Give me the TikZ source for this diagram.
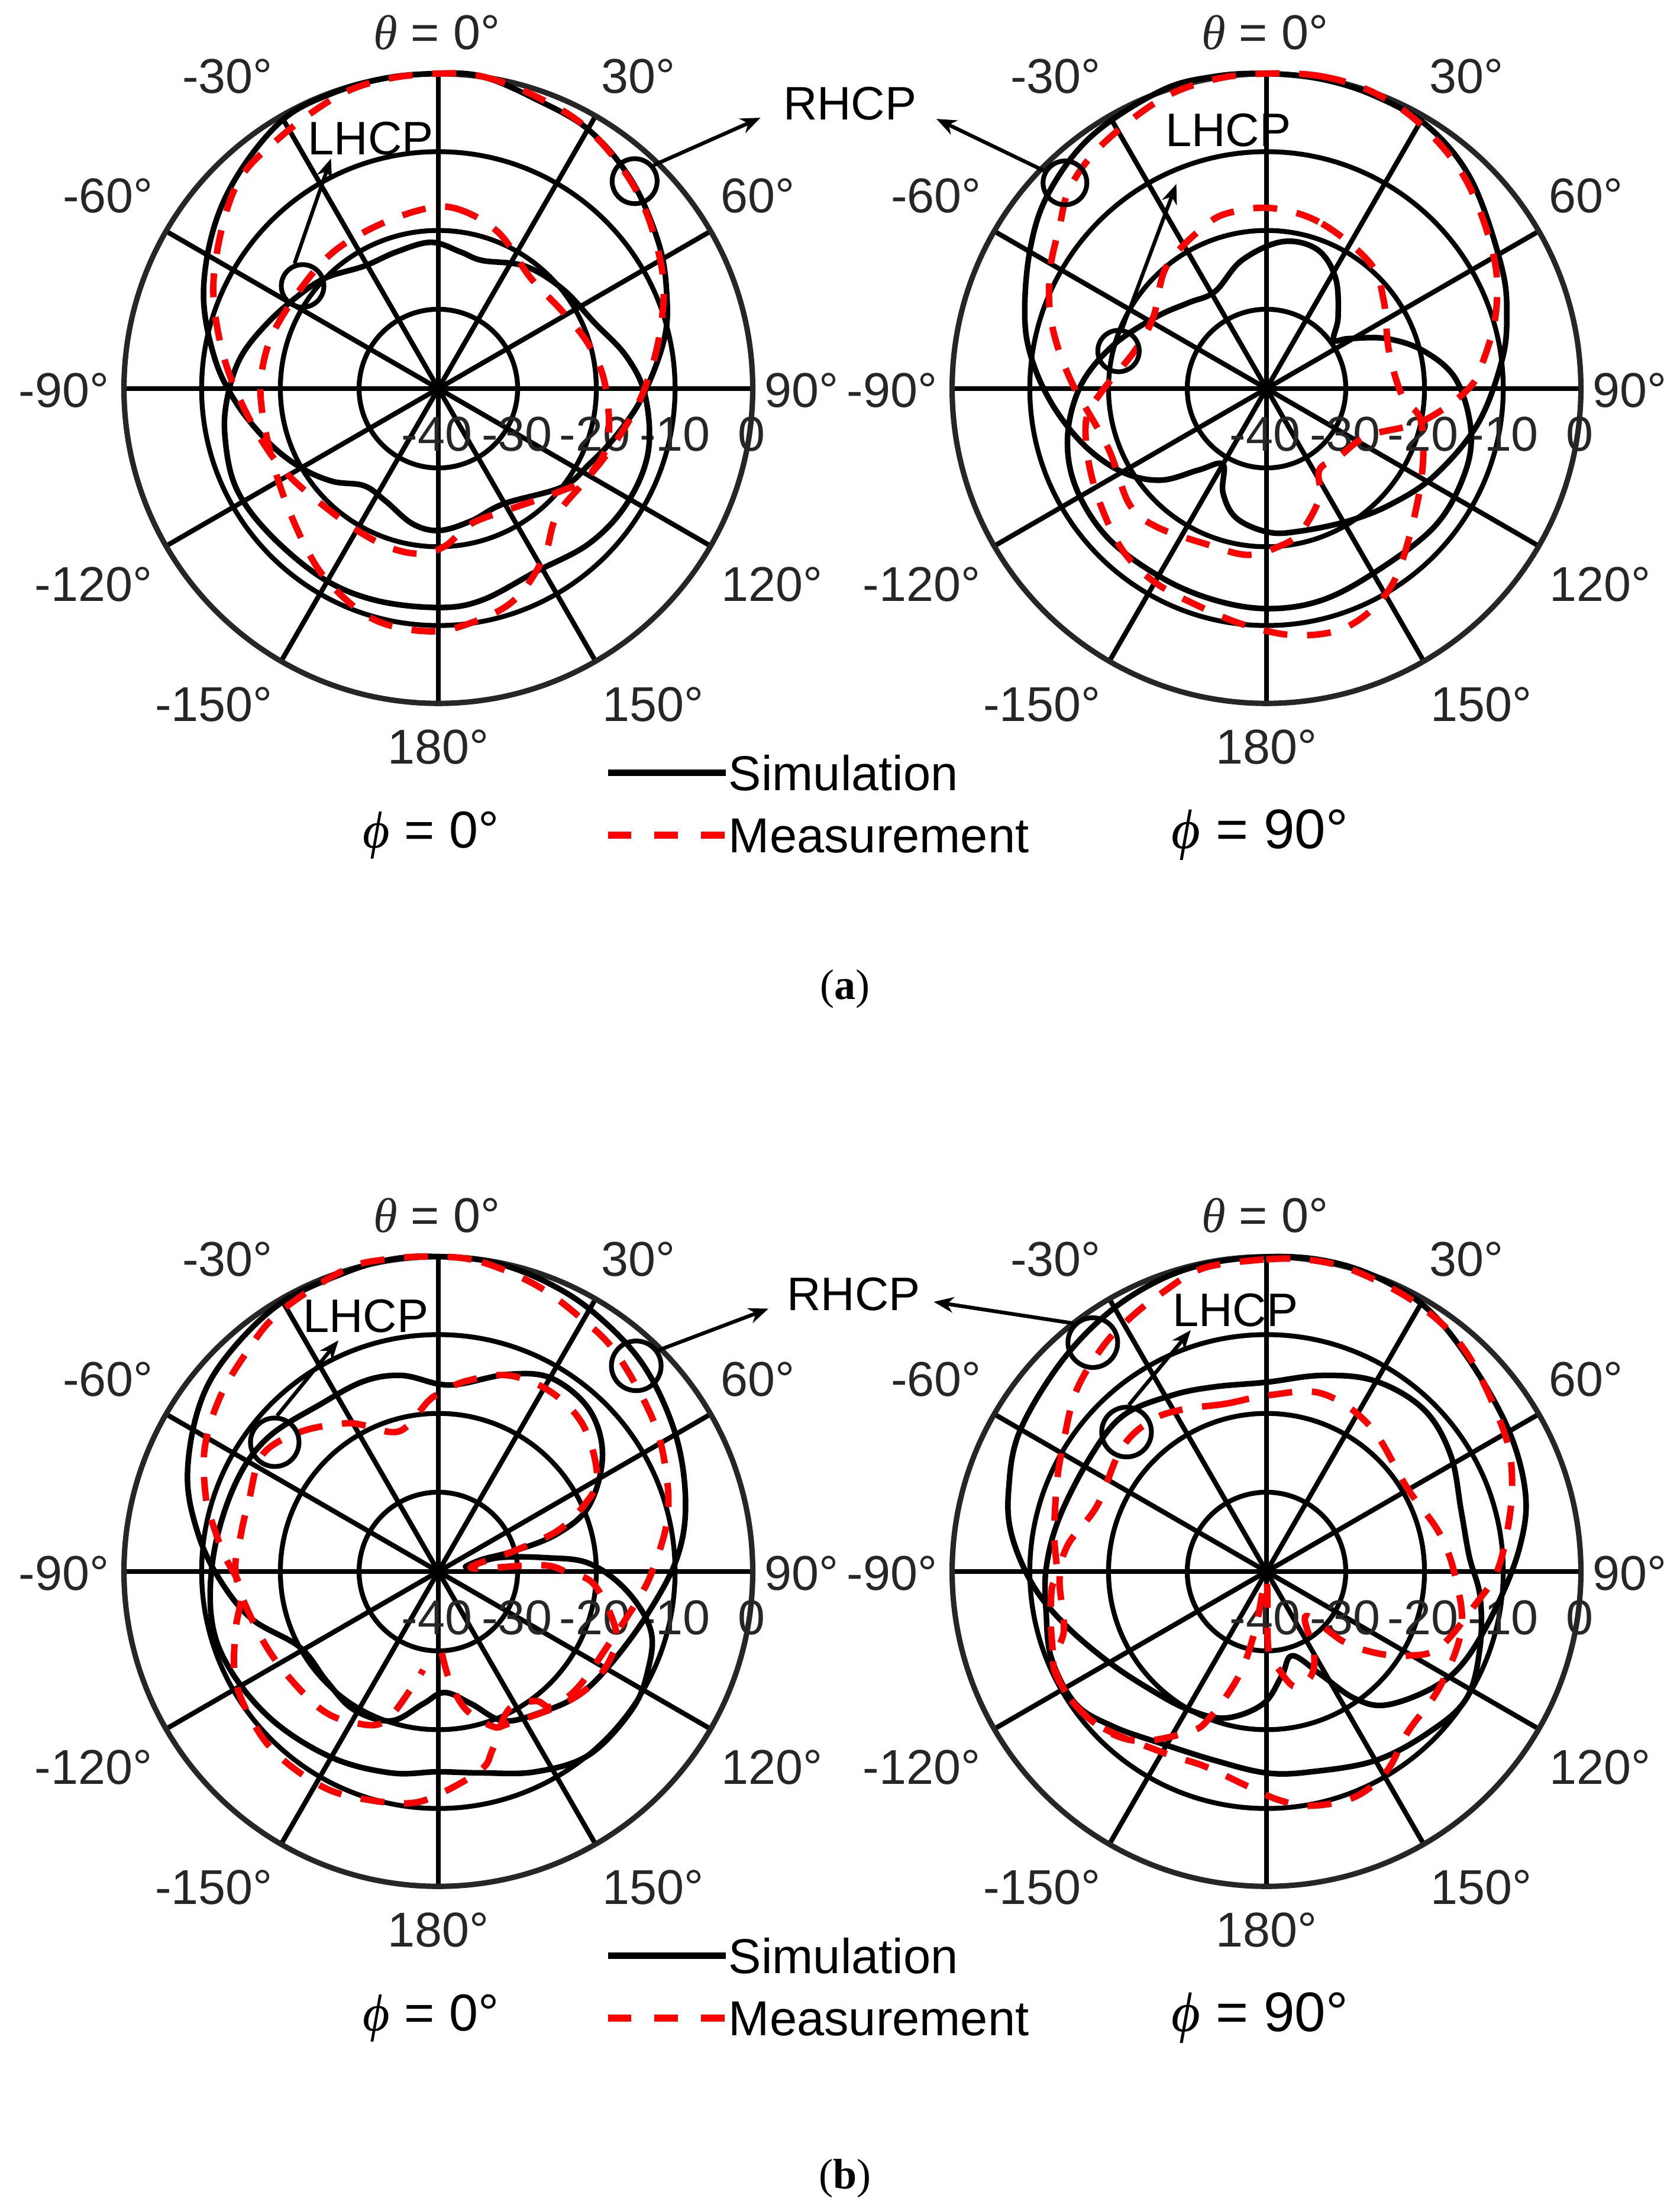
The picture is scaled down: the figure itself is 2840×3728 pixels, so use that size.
\documentclass[tikz,border=0pt]{standalone}
\usepackage{fontspec}
\setmainfont{Liberation Sans}
\newfontfamily\capserif{Liberation Serif}
\usetikzlibrary{arrows.meta}
\definecolor{axisgray}{HTML}{262626}
\tikzset{
  crop/.style={x=0.009056cm,y=-0.009567cm},
  ring/.style={draw=black,line width=2.35pt},
  spoke/.style={draw=black,line width=2.35pt},
  outer/.style={draw=axisgray,line width=2.6pt},
  simline/.style={draw=black,line width=2.7pt,line join=round},
  measline/.style={draw=red,line width=3.1pt,dash pattern=on 11.5pt off 9.5pt},
  tick/.style={font=\fontsize{23.5}{26}\selectfont,text=axisgray,inner sep=0pt,anchor=center},
  tag/.style={font=\fontsize{22.6}{25}\selectfont,text=black,inner sep=0pt,anchor=center},
  legtext/.style={font=\fontsize{23.6}{26}\selectfont,text=black,inner sep=0pt,anchor=base west},
  mark ring/.style={circle,draw=black,line width=2.3pt,minimum size=#1,inner sep=0pt},
  pointer/.style={draw=black,line width=1.8pt,-{Stealth[length=9.5pt,width=7.5pt,inset=3pt]}},
  caption/.style={font=\capserif\fontsize{20.5}{22}\selectfont,text=black,inner sep=0pt,anchor=center}
}
\newcommand{\PolarAxes}[3]{%
  \begin{scope}[shift={(#2,#3)},crop]
    \foreach \r in {148,295,442}{
      \draw[ring] (0,0) ellipse ({\r} and {\r*0.9468});
    }
    \foreach \a in {0,30,...,330}{
      \draw[spoke] (0,0) -- ({587*cos(\a)},{556*sin(\a)});
    }
    \draw[outer] (0,0) ellipse (587 and 556);
    \node[tick] (#1t0) at (-3,-629) {{\capserif\itshape θ} = 0°};
    \node[tick] (#1tm30) at (-394,-552) {-30°};
    \node[tick] (#1t30) at (373,-552) {30°};
    \node[tick] (#1tm60) at (-617,-340) {-60°};
    \node[tick] (#1t60) at (596,-340) {60°};
    \node[tick] (#1tm90) at (-699,3) {-90°};
    \node[tick] (#1t90) at (678,3) {90°};
    \node[tick] (#1tm120) at (-644,346) {-120°};
    \node[tick] (#1t120) at (623,346) {120°};
    \node[tick] (#1tm150) at (-419,558) {-150°};
    \node[tick] (#1t150) at (401,558) {150°};
    \node[tick] (#1t180) at (0,633) {180°};
    \node[tick] (#1r40) at (-3,81) {-40};
    \node[tick] (#1r30) at (147,81) {-30};
    \node[tick] (#1r20) at (292,81) {-20};
    \node[tick] (#1r10) at (442,81) {-10};
    \node[tick] (#1r0) at (585,81) {0};
  \end{scope}}
\newcommand{\Legend}[3]{%
  \coordinate (#1sa) at (1135,1365);
  \coordinate (#1sb) at (1355,1365);
  \coordinate (#1ma) at (1135,1475);
  \coordinate (#1mb) at (1355,1475);
  \draw[draw=black,line width=3pt] (#1sa) -- (#1sb);
  \draw[draw=red,line width=3.2pt,dash pattern=on 11.2pt off 11.2pt] (#1ma) -- (#1mb);
  \node[legtext] (#1sim) at (1360,1396) {Simulation};
  \node[legtext] (#1mea) at (1360,1506) {Measurement};
  \node[tag,font=\fontsize{25}{27}\selectfont] (#1phi0) at (805,1475) {{\capserif\itshape ϕ} = 0°};}
\begin{document}
\begin{tikzpicture}[x=0.01cm,y=-0.01cm]
\useasboundingbox (0,0) rectangle (2840,3728);
\fill[white] (0,0) rectangle (2840,3728);

% ---------- panel a, phi = 0
\PolarAxes{aa}{741}{657}
\begin{scope}[shift={(0,0)},crop]
\draw[simline] plot[smooth cycle,tension=0.6] coordinates {(818,130)(900,135)(1000,175)(1100,230)(1180,320)(1230,430)(1245,520)(1240,600)(1200,700)(1150,770)(1100,820)(1050,860)(940,890)(880,920)(820,937)(770,925)(720,885)(680,858)(620,850)(560,825)(500,780)(440,710)(400,630)(380,520)(400,400)(450,300)(530,210)(620,165)(720,138)};
\draw[simline] plot[smooth cycle,tension=0.6] coordinates {(805,428)(740,445)(680,470)(610,490)(560,520)(500,570)(450,630)(425,700)(420,770)(440,860)(500,940)(600,1020)(700,1060)(818,1073)(900,1060)(1000,1010)(1100,960)(1170,890)(1210,800)(1205,700)(1170,630)(1110,570)(1050,510)(980,470)(900,460)(860,445)};
\draw[measline] plot[smooth cycle,tension=0.6] coordinates {(818,130)(900,135)(1000,170)(1100,230)(1190,340)(1235,470)(1235,570)(1210,670)(1170,750)(1100,840)(1040,870)(950,900)(880,925)(830,965)(780,978)(710,960)(620,905)(520,820)(450,710)(410,600)(400,480)(440,330)(520,245)(630,170)(720,140)};
\draw[measline] plot[smooth cycle,tension=0.6] coordinates {(780,372)(850,368)(930,410)(990,490)(1050,550)(1100,610)(1130,680)(1135,780)(1100,840)(1040,910)(1015,985)(960,1060)(880,1100)(800,1115)(700,1095)(620,1035)(570,965)(520,850)(490,730)(490,650)(520,570)(600,465)(680,410)};
\node[mark ring=0.76cm] (aaR) at (1185,320) {};
\node[mark ring=0.72cm] (aaL) at (565,505) {};
\node[tag] (aaLtext) at (692,245) {LHCP};
\node[tag] (aaRtext) at (1587,183) {RHCP};
\coordinate (aaRtip) at (1420,208);
\coordinate (aaLtip) at (618,280);
\draw[pointer] (aaR.40) -- (aaRtip);
\draw[pointer] (aaL.110) -- (aaLtip);
\Legend{aa}{0}{0}
\node[caption] (capa) at (1578,1747) {(\textbf{a})};
\end{scope}

% ---------- panel a, phi = 90
\PolarAxes{ab}{2141}{657}
\begin{scope}[shift={(1420,0)},crop]
\draw[simline] plot[smooth cycle,tension=0.6] coordinates {(796,130)(900,140)(1000,170)(1100,225)(1180,320)(1235,470)(1245,560)(1235,640)(1190,750)(1110,840)(1030,890)(950,920)(860,938)(800,940)(740,915)(715,870)(715,820)(670,830)(600,848)(530,835)(460,790)(400,720)(360,640)(345,560)(355,440)(390,340)(470,240)(600,160)(700,135)};
\draw[simline] plot[smooth cycle,tension=0.6] coordinates {(825,427)(890,440)(925,490)(930,560)(922,600)(950,598)(1020,598)(1090,620)(1150,670)(1178,760)(1165,840)(1110,930)(1000,1010)(900,1060)(800,1075)(700,1060)(600,1020)(500,950)(440,860)(425,770)(450,680)(510,610)(590,560)(650,535)(700,515)(750,460)};
\draw[measline] plot[smooth cycle,tension=0.6] coordinates {(796,130)(900,135)(1000,165)(1090,225)(1170,320)(1220,450)(1225,550)(1200,640)(1170,690)(1085,745)(985,770)(930,808)(895,830)(895,880)(860,940)(820,965)(760,980)(680,960)(590,930)(540,890)(500,790)(430,670)(395,570)(392,480)(410,400)(430,330)(490,255)(600,175)(700,140)};
\draw[measline] plot[smooth cycle,tension=0.6] coordinates {(810,368)(900,395)(990,465)(1015,530)(1025,620)(1050,700)(1085,745)(1085,850)(1050,990)(1010,1060)(940,1110)(850,1122)(760,1105)(680,1075)(590,1030)(530,975)(490,900)(465,820)(460,740)(490,690)(550,620)(585,560)(610,470)(680,400)(730,375)};
\node[mark ring=0.74cm] (abR) at (420,323) {};
\node[mark ring=0.70cm] (abL) at (520,620) {};
\node[tag] (abLtext) at (725,230) {LHCP};
\coordinate (abRtip) at (180,210);
\coordinate (abLtip) at (628,325);
\draw[pointer] (abR.150) -- (abRtip);
\draw[pointer] (abL.80) -- (abLtip);
\node[tag,font=\fontsize{26.8}{28}\selectfont] (abphi) at (784,1475) {{\capserif\itshape ϕ} = 90°};
\end{scope}

% ---------- panel b, phi = 0
\PolarAxes{ba}{741}{2657}
\begin{scope}[shift={(0,2000)},crop]
\draw[simline] plot[smooth cycle,tension=0.6] coordinates {(818,130)(920,140)(1020,175)(1110,230)(1200,320)(1260,440)(1280,560)(1265,660)(1210,760)(1140,850)(1080,905)(1010,935)(940,950)(880,920)(830,900)(790,920)(730,950)(660,930)(610,880)(560,820)(470,770)(410,700)(370,620)(350,520)(370,400)(420,310)(520,215)(640,160)(730,135)};
\draw[simline] plot[smooth cycle,tension=0.6] coordinates {(870,678)(930,662)(1020,662)(1100,672)(1170,720)(1215,790)(1210,860)(1180,930)(1100,1010)(1000,1040)(900,1042)(818,1040)(730,1042)(620,1015)(510,950)(430,860)(395,770)(400,650)(440,530)(500,450)(600,390)(680,350)(750,340)(818,355)(860,355)(950,338)(1030,345)(1100,400)(1125,480)(1100,570)(1040,620)(960,650)(900,665)};
\draw[measline] plot[smooth cycle,tension=0.6] coordinates {(818,130)(900,140)(1000,180)(1080,235)(1150,300)(1220,420)(1245,520)(1245,600)(1220,680)(1195,730)(1140,810)(1080,890)(1030,925)(1000,915)(950,930)(920,1000)(900,1035)(830,1075)(770,1095)(690,1090)(610,1070)(530,1020)(480,965)(440,880)(440,790)(450,720)(420,660)(400,610)(385,560)(382,470)(410,380)(460,300)(520,230)(640,155)(720,135)};
\draw[measline] plot[smooth,tension=0.6] coordinates {(825,830)(840,880)(870,930)(920,960)(950,955)(1040,925)(1100,890)(1140,840)(1150,790)(1110,710)(1060,688)(1010,675)(880,680)(960,650)(1040,615)(1090,570)(1115,520)(1090,430)(1030,370)(950,340)(870,350)(825,370)(800,385)(760,430)(730,440)(680,428)(640,425)(560,440)(490,480)(465,560)(450,620)(440,690)(470,770)(520,850)(600,930)(670,955)(720,950)(770,890)(790,860)};
\node[mark ring=0.84cm] (baR) at (1188,323) {};
\node[mark ring=0.82cm] (baL) at (513,458) {};
\node[tag] (baLtext) at (683,235) {LHCP};
\node[tag] (baRtext) at (1594,197) {RHCP};
\coordinate (baRtip) at (1435,222);
\coordinate (baLtip) at (632,278);
\draw[pointer] (baR.35) -- (baRtip);
\draw[pointer] (baL.85) -- (baLtip);
\Legend{ba}{0}{0}
\node[caption] (capb) at (1578,1758) {(\textbf{b})};
\end{scope}

% ---------- panel b, phi = 90
\PolarAxes{bb}{2141}{2657}
\begin{scope}[shift={(1420,2000)},crop]
\draw[simline] plot[smooth cycle,tension=0.6] coordinates {(820,130)(920,140)(1010,170)(1100,225)(1180,320)(1250,440)(1280,550)(1270,640)(1230,740)(1170,840)(1110,890)(1020,922)(960,910)(900,870)(845,835)(825,870)(790,920)(720,945)(650,930)(580,895)(500,845)(420,780)(360,710)(320,620)(315,540)(335,440)(410,320)(500,230)(600,170)(700,140)};
\draw[simline] plot[smooth cycle,tension=0.6] coordinates {(796,352)(900,340)(1000,350)(1090,400)(1140,480)(1160,580)(1175,660)(1195,730)(1195,820)(1170,910)(1100,970)(1000,1020)(880,1040)(796,1042)(700,1020)(600,990)(510,960)(440,920)(395,840)(385,760)(385,680)(410,590)(470,480)(530,410)(620,375)(700,360)};
\draw[measline] plot[smooth,tension=0.6] coordinates {(796,135)(870,135)(960,155)(1080,215)(1170,300)(1240,440)(1255,530)(1245,620)(1225,690)(1190,740)(1120,820)(1060,835)(1000,830)(940,810)(870,765)(885,830)(880,870)(850,890)(820,860)(800,825)(796,700)(775,790)(745,870)(690,945)(650,970)(550,985)(470,950)(410,880)(395,800)(395,720)(405,690)(400,620)(405,530)(415,470)(440,370)(490,290)(540,240)(600,195)(680,150)(796,135)};
\draw[measline] plot[smooth cycle,tension=0.6] coordinates {(640,400)(720,390)(800,375)(900,372)(990,430)(1060,540)(1120,620)(1150,700)(1160,790)(1120,890)(1060,970)(1020,1040)(960,1085)(880,1100)(820,1090)(760,1065)(680,1030)(600,1005)(470,950)(400,860)(418,790)(410,700)(425,640)(480,570)(525,470)(580,420)};
\node[mark ring=0.84cm] (bbR) at (472,282) {};
\node[mark ring=0.84cm] (bbL) at (535,440) {};
\node[tag] (bbLtext) at (738,225) {LHCP};
\coordinate (bbRtip) at (175,210);
\coordinate (bbLtip) at (655,260);
\draw[pointer] (bbR.135) -- (bbRtip);
\draw[pointer] (bbL.85) -- (bbLtip);
\node[tag,font=\fontsize{26.8}{28}\selectfont] (bbphi) at (784,1475) {{\capserif\itshape ϕ} = 90°};
\end{scope}
\end{tikzpicture}
\end{document}
